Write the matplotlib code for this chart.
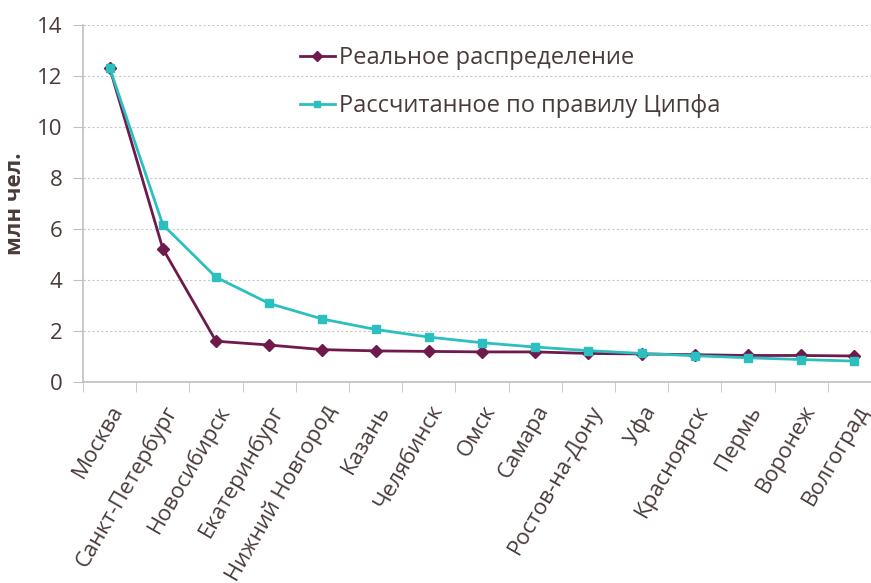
import matplotlib.pyplot as plt
import matplotlib.ticker as mticker

plt.rcParams['font.family'] = ['Open Sans', 'DejaVu Sans']

cities = ['Москва', 'Санкт-Петербург', 'Новосибирск', 'Екатеринбург',
          'Нижний Новгород', 'Казань', 'Челябинск', 'Омск', 'Самара',
          'Ростов-на-Дону', 'Уфа', 'Красноярск', 'Пермь', 'Воронеж', 'Волгоград']
real = [12.33, 5.23, 1.60, 1.45, 1.27, 1.22, 1.20, 1.18, 1.18, 1.12,
        1.10, 1.07, 1.04, 1.04, 1.02]
zipf = [12.33, 6.17, 4.11, 3.08, 2.47, 2.06, 1.76, 1.54, 1.37, 1.23,
        1.12, 1.03, 0.95, 0.88, 0.82]

text_col = '#4a3b3b'
fig = plt.figure(figsize=(8.71, 5.83), dpi=100)
ax = fig.add_axes([83/871, 1 - 382/583, 798/871, 357/583])

x = range(len(cities))
ax.plot(x, real, color='#6e1a4c', lw=2, marker='D', ms=6,
        label='Реальное распределение', zorder=3)
ax.plot(x, zipf, color='#2cbfbf', lw=2, marker='s', ms=6,
        label='Рассчитанное по правилу Ципфа', zorder=3)

ax.set_ylim(0, 14)
ax.set_xlim(-0.5, len(cities) - 0.5)
ax.set_yticks(range(0, 15, 2))
ax.yaxis.grid(True, ls=(0, (2, 2)), color='#c8c8c8', lw=0.8)
ax.set_axisbelow(True)

ax.set_xticks(list(x))
ax.set_xticklabels(cities, rotation=60, ha='right', rotation_mode='anchor',
                   fontsize=16, color=text_col)
ax.xaxis.set_minor_locator(mticker.FixedLocator([i - 0.5 for i in range(len(cities) + 1)]))
ax.tick_params(axis='x', which='major', length=0, pad=14)
ax.tick_params(axis='x', which='minor', length=7, color='#c0c0c0')
ax.tick_params(axis='y', length=7, color='#c0c0c0', labelsize=16,
               labelcolor=text_col, pad=8)

for s in ['top', 'right']:
    ax.spines[s].set_visible(False)
for s in ['left', 'bottom']:
    ax.spines[s].set_color('#c0c0c0')
    ax.spines[s].set_linewidth(1.2)

ax.set_ylabel('млн чел.', fontsize=16, fontweight='bold', color=text_col, labelpad=8)

leg = ax.legend(loc='upper left', bbox_to_anchor=(0.245, 1.0), frameon=False,
                fontsize=17, labelspacing=1.0, handlelength=1.5, handletextpad=0.15,
                markerscale=0.8)
for t in leg.get_texts():
    t.set_color(text_col)

fig.savefig('out.png', dpi=100)
